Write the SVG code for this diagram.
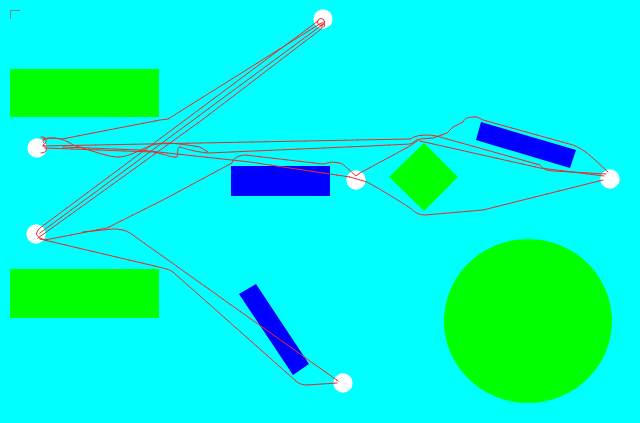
<svg xmlns="http://www.w3.org/2000/svg" xmlns:xlink="http://www.w3.org/1999/xlink" width="640" height="423" viewBox="0 0 640 423">
<style>
.free{fill:#00ffff}
.obs{fill:#00ff00}
.blk{fill:#0000ff}
.node{fill:#ffffff}
.trk{fill:none;stroke:#ea2b2b;stroke-width:1;stroke-linejoin:round;stroke-linecap:round}
.dots{fill:none;stroke:#c81e1e;stroke-width:1.6;stroke-linecap:round;stroke-dasharray:0.1 13}
.axis{fill:none;stroke:#808080;stroke-width:1}
</style>
<rect class="free" x="0" y="0" width="640" height="423"/>
<path class="axis" d="M10.5,19 V10.5 H20"/>
<g id="obstacles">
  <rect id="green-rect-top" class="obs" x="10" y="69" width="149" height="48"/>
  <rect id="green-rect-bottom" class="obs" x="10" y="269" width="149" height="49"/>
  <polygon id="green-diamond" class="obs" points="389,177 424,143 458,177 424,211"/>
  <ellipse id="green-circle" class="obs" cx="528" cy="321" rx="84" ry="82"/>
  <rect id="blue-rect" class="blk" x="231" y="166" width="99" height="30"/>
  <polygon id="blue-tilted-upper" class="blk" points="481,122 576,150 570,168 476,140"/>
  <polygon id="blue-tilted-lower" class="blk" points="239,294 256,284 309,364 293,375"/>
</g>
<g id="nodes">
  <circle id="n-top" class="node" cx="323" cy="19" r="9.7"/>
  <circle id="n-left-top" class="node" cx="37" cy="148" r="9.7"/>
  <circle id="n-left-bottom" class="node" cx="36" cy="234" r="9.7"/>
  <circle id="n-mid" class="node" cx="356" cy="180" r="9.7"/>
  <circle id="n-right" class="node" cx="610" cy="179" r="9.7"/>
  <circle id="n-bottom" class="node" cx="343" cy="383" r="9.7"/>
</g>
<g id="connectors">
  <path id="t1" class="trk" d="M44,143 C40,139 48,137 62,139 L160,120 L168,119 L318,25 C323,21 326,23 324,27"/>
  <path id="t2" class="trk" d="M47,240 C40,239 35,236 37,232 C38,229 41,227 44,225 L318,21"/>
  <path id="t3" class="trk" d="M40,233 L322,25"/>
  <path id="t4" class="trk" d="M38,238 L202,120 L320,30 C322,28 323,26 322,24"/>
  <circle class="trk" cx="321" cy="22" r="3.5"/>
  <path id="t5" class="trk" d="M45,240 L107,228 L163,200 L232,163 C234,158 237,156 245,155 L323,164 L332,162 L340,163 C345,165 350,171 356,176 L360,173 L410,146 L420,139 L433,138 L447,133 L453,127 L463,122 C465,118 467,117 477,117 L483,120 L573,145 C580,148 585,151 593,158 L608,172"/>
  <path id="t6" class="trk" d="M83,232 L113,229 C120,229 125,230 130,233 L338,381"/>
  <path id="t7" class="trk" d="M40,239 L163,268 C167,269 170,270 173,272 L297,382 C300,384 303,385 307,385 L337,383"/>
  <path id="h1" class="trk" d="M43,146 L410,139 C415,136 420,135 427,135 C432,135 436,136 440,137 L540,165 C544,170 548,171 555,171 L606,174"/>
  <path id="h1b" class="trk" d="M420,141 L540,168 L604,176"/>
  <path id="h2" class="trk" d="M45,148 L153,152 C165,154 172,158 177,157 C179,152 176,148 180,147 C184,148 190,151 208,153 L370,146 L410,144 C413,143 415,141 418,139"/>
  <path id="h3" class="trk" d="M43,139 C50,137 62,137 73,145 C90,150 110,158 120,157 C130,156 140,150 150,146 C160,142 170,142 200,147 L208,152"/>
  <path id="h4" class="trk" d="M63,147 L140,150 L250,162 L330,174 L350,177 L367,182 C385,192 398,200 410,208 C415,212 418,215 425,215 L483,210 L603,180"/>
  <path class="trk" d="M41,137 C47,136 48,143 43,145 C48,147 48,153 41,153"/>
  <g id="waypoints">
    <use xlink:href="#t1" class="dots"/>
    <use xlink:href="#t2" class="dots"/>
    <use xlink:href="#t3" class="dots"/>
    <use xlink:href="#t4" class="dots"/>
    <use xlink:href="#t5" class="dots"/>
    <use xlink:href="#t6" class="dots"/>
    <use xlink:href="#t7" class="dots"/>
    <use xlink:href="#h1" class="dots"/>
    <use xlink:href="#h1b" class="dots"/>
    <use xlink:href="#h2" class="dots"/>
    <use xlink:href="#h3" class="dots"/>
    <use xlink:href="#h4" class="dots"/>
  </g>
</g>
</svg>
